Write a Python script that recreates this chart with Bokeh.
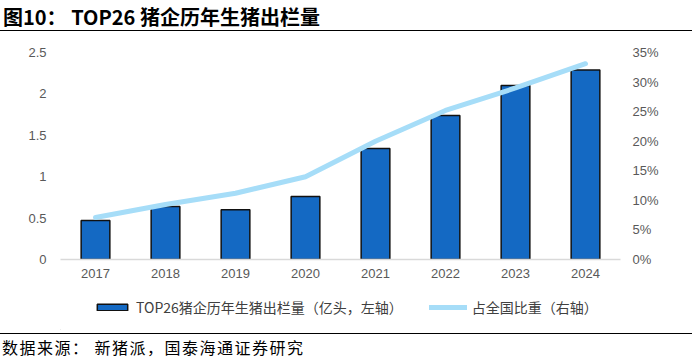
from bokeh.plotting import figure
from bokeh.models import (Range1d, FactorRange, LinearAxis, FixedTicker, NumeralTickFormatter,
                          Legend, LegendItem, Div)
from bokeh.layouts import column
from bokeh.embed import file_html
from bokeh.resources import INLINE

years = ["2017", "2018", "2019", "2020", "2021", "2022", "2023", "2024"]
volume = [0.47, 0.64, 0.60, 0.76, 1.34, 1.74, 2.10, 2.29]   # 亿头
share = [0.071, 0.093, 0.112, 0.140, 0.200, 0.252, 0.290, 0.331]
left_ticks = [0, 0.5, 1, 1.5, 2, 2.5]
right_ticks = [0, 0.05, 0.10, 0.15, 0.20, 0.25, 0.30, 0.35]

title_text = "图10： TOP26 猪企历年生猪出栏量"
bar_label = "TOP26猪企历年生猪出栏量（亿头，左轴）"
line_label = "占全国比重（右轴）"
source_text = "数据来源： 新猪派，国泰海通证券研究"

W = 692
BAR = "#1469C3"
BAR_EDGE = "#111111"
LINE = "#A6DDF8"
TICK = "#595959"
CJK = "Noto Sans CJK SC"
LB, RB = 60, 72

# ---- header (title + rule) ----
head = Div(width=W, height=34, margin=0, text=(
    f'<div style="width:{W}px;height:31px;box-sizing:border-box;border-bottom:1.5px solid #000;'
    f"font-family:'{CJK}';font-weight:bold;font-size:20px;line-height:34px;padding-left:3px;"
    f'white-space:nowrap;color:#000">{title_text}</div>'))

# ---- main chart ----
p = figure(width=W, height=251, output_backend="svg", toolbar_location=None,
           x_range=FactorRange(*years), y_range=Range1d(0, 2.5),
           min_border_left=LB, min_border_right=RB, min_border_top=18, min_border_bottom=26)
p.extra_y_ranges = {"pct": Range1d(0, 0.35)}
p.grid.visible = False
p.outline_line_color = None

p.vbar(x=years, top=volume, width=0.41, fill_color=BAR, line_color=BAR_EDGE, line_width=1.5)
p.line(x=years, y=share, y_range_name="pct", line_color=LINE, line_width=5,
       line_join="round", line_cap="round")

xa = p.xaxis[0]
xa.axis_line_color = "#D9D9D9"
xa.axis_line_width = 1.5
xa.major_tick_line_color = None
xa.minor_tick_line_color = None
xa.major_label_standoff = 3
xa.major_label_text_font = "Liberation Sans"
xa.major_label_text_font_size = "13px"
xa.major_label_text_color = TICK

ya = p.yaxis[0]
ya.ticker = FixedTicker(ticks=left_ticks)
ya.formatter = NumeralTickFormatter(format="0.[0]")
ya.axis_line_color = None
ya.major_tick_line_color = None
ya.minor_tick_line_color = None
ya.major_label_standoff = 8
ya.major_label_text_font = "Liberation Sans"
ya.major_label_text_font_size = "13px"
ya.major_label_text_color = TICK

ra = LinearAxis(y_range_name="pct", ticker=FixedTicker(ticks=right_ticks),
                formatter=NumeralTickFormatter(format="0%"))
ra.axis_line_color = None
ra.major_tick_line_color = None
ra.minor_tick_line_color = None
ra.major_label_standoff = 6
ra.major_label_text_font = "Liberation Sans"
ra.major_label_text_font_size = "13px"
ra.major_label_text_color = TICK
p.add_layout(ra, "right")

# ---- legend strip (proxy glyphs styled like the series, kept outside the visible range) ----
lg = figure(width=W, height=45, output_backend="svg", toolbar_location=None,
            x_range=Range1d(0, 1), y_range=Range1d(1, 2),
            min_border_left=LB, min_border_right=RB, min_border_top=0, min_border_bottom=0,
            x_axis_location=None, y_axis_location=None)
lg.grid.visible = False
lg.outline_line_color = None
proxy_bar = lg.vbar(x=[-5], top=[-5], bottom=[-6], width=0.1,
                    fill_color=BAR, line_color=BAR_EDGE, line_width=1.5)
proxy_line = lg.line(x=[-6, -5], y=[-5, -5], line_color=LINE, line_width=5, line_cap="round")
legend = Legend(items=[LegendItem(label=bar_label, renderers=[proxy_bar]),
                       LegendItem(label=line_label, renderers=[proxy_line])],
                orientation="horizontal", location=(33, 13),
                glyph_width=38, glyph_height=8, label_standoff=5, spacing=26,
                padding=0, margin=0, border_line_color=None, background_fill_alpha=0,
                label_text_font=CJK, label_text_font_size="14px", label_text_color="#404040")
lg.add_layout(legend, "center")

# ---- footer (rule + source) ----
foot = Div(width=W, height=31, margin=0, text=(
    f'<div style="width:{W}px;margin-top:3px;box-sizing:border-box;border-top:1.5px solid #000;'
    f"font-family:'{CJK}';font-size:16px;letter-spacing:1.5px;line-height:26px;padding-left:2px;"
    f'white-space:nowrap;color:#000">{source_text}</div>'))

layout = column(head, p, lg, foot, spacing=0)
open("out.html", "w").write(file_html(layout, INLINE))
